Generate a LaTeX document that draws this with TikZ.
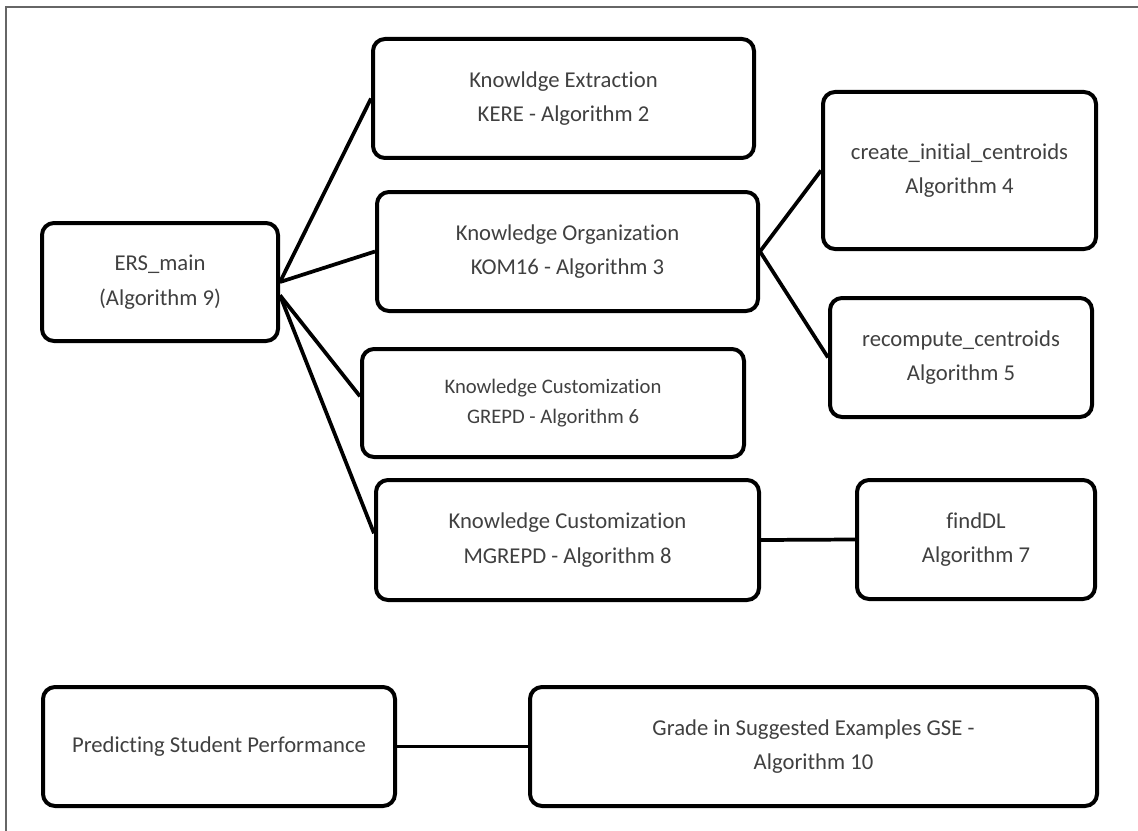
\documentclass[tikz,border=0pt]{standalone}
\usepackage{fontspec}
\setmainfont{Carlito}[RawFeature={-liga}]
\begin{document}
\begin{tikzpicture}[x=0.75pt,y=-0.75pt,
  box/.style={draw=black, line width=3pt, rounded corners=9pt, align=center,
    inner sep=0pt, text=black!75, font=\fontsize{17}{26}\selectfont},
  smallbox/.style={box, font=\fontsize{15.5}{23}\selectfont},
  link/.style={line width=2.8pt, draw=black}]
\useasboundingbox (0,0) rectangle (1138,831);
\draw[black!60, line width=1.2pt] (6,831) -- (6,7) -- (1138,7);

\node[box, minimum width=236*0.75pt, minimum height=118*0.75pt] (ers) at (160,282) {ERS\_main\\(Algorithm 9)};
\node[box, minimum width=381*0.75pt, minimum height=119*0.75pt] (ke) at (563.5,98.5) {Knowldge Extraction\\KERE - Algorithm 2};
\node[box, minimum width=381*0.75pt, minimum height=119*0.75pt] (ko) at (567.5,251.5) {Knowledge Organization\\KOM16 - Algorithm 3};
\node[box, minimum width=273*0.75pt, minimum height=157*0.75pt] (cic) at (959.5,170.5) {create\_initial\_centroids\\Algorithm 4};
\node[box, minimum width=262*0.75pt, minimum height=119*0.75pt] (rc) at (961,357.5) {recompute\_centroids\\Algorithm 5};
\node[smallbox, minimum width=382*0.75pt, minimum height=108*0.75pt] (gr) at (553,403) {Knowledge Customization\\GREPD - Algorithm 6};
\node[box, minimum width=383*0.75pt, minimum height=120*0.75pt] (mg) at (567.5,540) {Knowledge Customization\\MGREPD - Algorithm 8};
\node[box, minimum width=238*0.75pt, minimum height=119*0.75pt] (fd) at (976,539.5) {findDL\\Algorithm 7};
\node[box, minimum width=352*0.75pt, minimum height=119*0.75pt] (psp) at (219,746.5) {Predicting Student Performance};
\node[box, minimum width=567*0.75pt, minimum height=119*0.75pt, font=\fontsize{17}{25}\selectfont] (gse) at (813.5,746.5) {Grade in Suggested Examples GSE -\\Algorithm 10};

\draw[link] (ers.east) -- (ke.west);
\draw[link] (ers.east) -- (ko.west);
\draw[link] ([yshift=-10pt]ers.east) -- ([yshift=5pt]gr.west);
\draw[link] ([yshift=-10pt]ers.east) -- ([yshift=5pt]mg.west);
\draw[link] (ko.east) -- (cic.west);
\draw[link] (ko.east) -- (rc.west);
\draw[link] (mg.east) -- (fd.west);
\draw[link] (psp.east) -- (gse.west);
\end{tikzpicture}
\end{document}
